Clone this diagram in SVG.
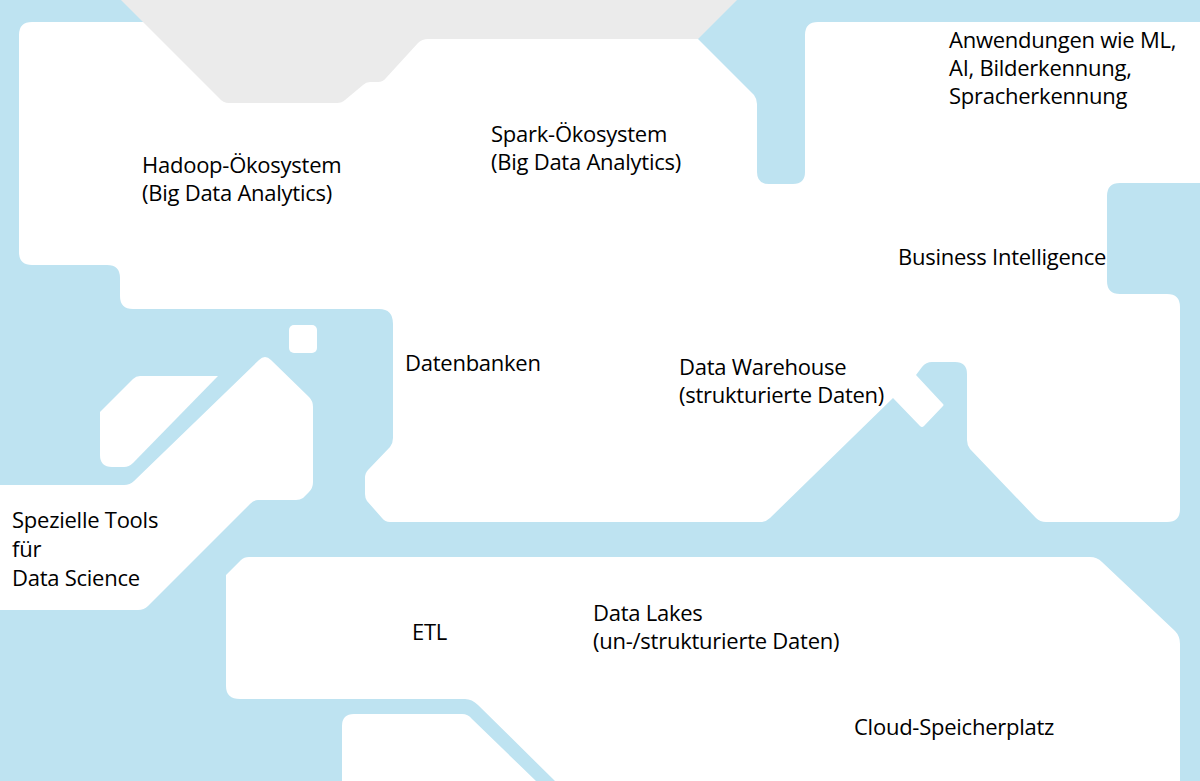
<svg xmlns="http://www.w3.org/2000/svg" width="1200" height="781" viewBox="0 0 1200 781">
<style>
.w{fill:#ffffff}
.g{fill:#ebebeb}
.t{font-family:"Open Sans","Noto Sans","Liberation Sans",sans-serif;font-size:22px;fill:#000;letter-spacing:-0.25px}
</style>
<rect width="1200" height="781" fill="#bee3f1"/>
<g id="shapes">
<path class="w" d="M19,35 Q19,22 32,22 L690,22 L698,39 L754,95 Q757,99 757,104 L757,172 Q757,184 769,184 L793,184 Q805,184 805,172 L805,35 Q805,22 818,22 L1200,22 L1200,183 L1120,183 Q1107,183 1107,196 L1107,281 Q1107,294 1120,294 L1167,294 Q1180,294 1180,307 L1180,509 Q1180,522 1167,522 L1046,522 Q1040,522 1036,518 L970,449 Q967,445 967,440 L967,374 Q967,362 955,362 L932,362 Q926,362 922,367 L916,375 L943,404 Q944,405 943,406 L924,426 Q922,428 920,426 L893,398 L770,518 Q766,522 760,522 L390,522 Q385,522 382,518 L367,501 Q365,498 365,494 L365,478 Q365,473 368,470 L390,447 Q393,443 393,438 L393,324 Q393,309 379,309 L133,309 Q120,309 120,296 L120,278 Q120,265 107,265 L32,265 Q19,265 19,252 Z"/>
<rect class="w" x="289" y="325" width="28" height="28" rx="5"/>
<path class="w" d="M0,485 L124,485 Q130,485 134,481 L259,360 Q265,354 271,360 L309,397 Q313,401 313,407 L313,482 Q313,488 309,492 L303,498 Q300,500 296,500 L258,500 Q254,500 250,504 L148,606 Q144,610 138,610 L0,610 Z"/>
<path class="w" d="M100,412 L133,379 Q136,376 140,376 L218,376 L133,463 Q129,467 124,467 L112,467 Q100,467 100,455 Z"/>
<path class="w" d="M226,575 L241,560 Q244,557 249,557 L1090,557 Q1097,557 1102,562 L1175,631 Q1180,636 1180,644 L1180,781 L555,781 L478,705 Q472,699 465,699 L240,699 Q226,699 226,686 Z"/>
<path class="w" d="M342,781 L342,726 Q342,714 354,714 L462,714 Q468,714 472,719 L536,781 Z"/>
<path class="g" d="M121,0 L737,0 L698,39 L428,39 Q422,39 418,43 L386,78 Q383,82 378,82 L370,82 Q366,82 363,85 L345,100 Q342,103 337,103 L229,103 Q223,103 219,98 Z"/>
</g>
<g id="connectors"></g>
<g id="hadoop"><text class="t" x="142" y="173">Hadoop-Ökosystem</text><text class="t" x="142" y="201">(Big Data Analytics)</text></g>
<g id="spark"><text class="t" x="491" y="142">Spark-Ökosystem</text><text class="t" x="491" y="170">(Big Data Analytics)</text></g>
<g id="anwendungen"><text class="t" x="949" y="48">Anwendungen wie ML,</text><text class="t" x="949" y="76">AI, Bilderkennung,</text><text class="t" x="949" y="104">Spracherkennung</text></g>
<g id="bi"><text class="t" x="898" y="265">Business Intelligence</text></g>
<g id="datenbanken"><text class="t" x="405" y="371">Datenbanken</text></g>
<g id="warehouse"><text class="t" x="679" y="375">Data Warehouse</text><text class="t" x="679" y="403">(strukturierte Daten)</text></g>
<g id="tools"><text class="t" x="12" y="528">Spezielle Tools</text><text class="t" x="12" y="557">für</text><text class="t" x="12" y="586">Data Science</text></g>
<g id="etl"><text class="t" x="412" y="640">ETL</text></g>
<g id="lakes"><text class="t" x="593" y="621">Data Lakes</text><text class="t" x="593" y="649">(un-/strukturierte Daten)</text></g>
<g id="cloud"><text class="t" x="854" y="735">Cloud-Speicherplatz</text></g>
</svg>
